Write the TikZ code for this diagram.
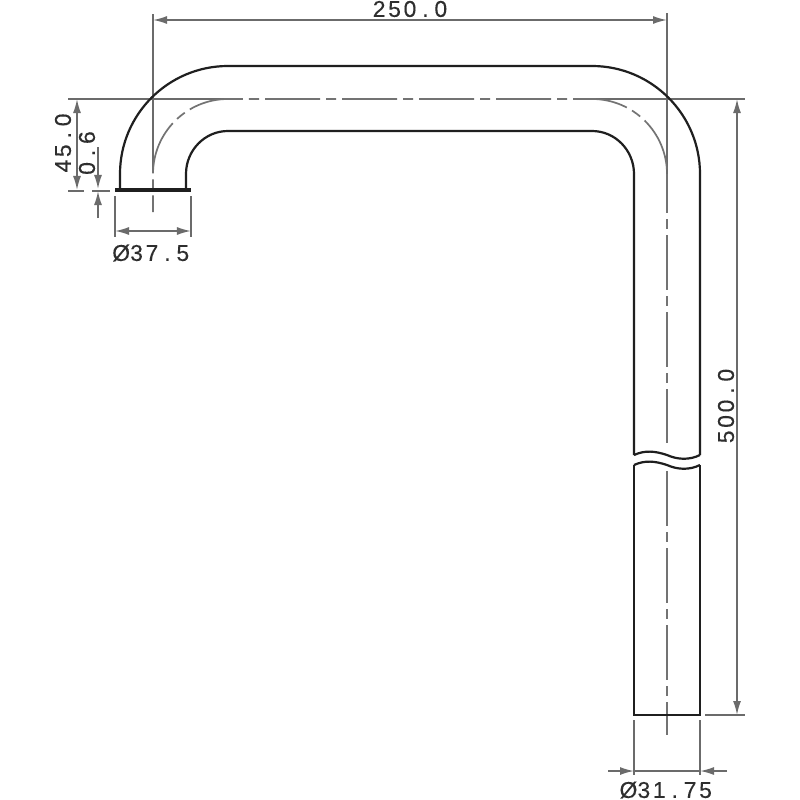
\documentclass[tikz,border=0pt]{standalone}
\usepackage{fontspec}
\setmainfont[FakeBold=0.25]{Liberation Sans}
\usetikzlibrary{arrows.meta}
\definecolor{tube}{gray}{0.12}
\definecolor{dim}{gray}{0.42}
\definecolor{cen}{gray}{0.45}
\tikzset{
  tubeline/.style={draw=tube,line width=0.22mm},
  flange/.style={draw=tube,line width=0.38mm},
  extline/.style={draw=dim,line width=0.17mm},
  dimline/.style={draw=dim,line width=0.17mm,{Latex[length=1.4mm,width=0.8mm]}-{Latex[length=1.4mm,width=0.8mm]}},
  outarrow/.style={draw=dim,line width=0.17mm,-{Latex[length=1.4mm,width=0.8mm]}},
  centreline/.style={draw=cen,line width=0.17mm,dash pattern=on 5.5mm off 0.6mm on 1mm off 0.6mm},
  backcentre/.style={centreline,dash phase=5.5mm},
  label/.style={inner sep=0pt,text=black!82,font=\fontsize{6.5pt}{6.5pt}\selectfont},
}
\newcommand{\ch}[1]{\makebox[1.54mm]{#1}}
\begin{document}
\begin{tikzpicture}[x=0.01cm,y=-0.01cm]
\useasboundingbox (0,0) rectangle (800,800);
\fill[white] (0,0) rectangle (800,800);
% coordinates
\coordinate (ol) at (120,190); \coordinate (il) at (186,190);
\coordinate (or) at (700,715); \coordinate (ir) at (634,715);
\coordinate (t1) at (153,20); \coordinate (t2) at (667,20);
\coordinate (e1t) at (153,14); \coordinate (e2t) at (667,13); \coordinate (e2b) at (667,174);
\coordinate (hl) at (68,99); \coordinate (hr) at (745,99);
\coordinate (d1) at (737,99); \coordinate (d2) at (737,715);
\coordinate (b1) at (705,715); \coordinate (b2) at (745,715);
\coordinate (a1) at (77,99); \coordinate (a2) at (77,190);
\coordinate (f1) at (115,190); \coordinate (f2) at (191,190);
% extension lines
\draw[extline] (e1t) -- (153,170);
\draw[extline] (e2t) -- (e2b);
\draw[extline] (hl) -- (228,99);
\draw[extline] (592,99) -- (hr);
\draw[extline] (b1) -- (b2);
\draw[extline] (68,191) -- (84,191);
\draw[extline] (92,191) -- (110,191);
\draw[extline] (115,196) -- (115,237);
\draw[extline] (191,196) -- (191,237);
\draw[extline] (634,720) -- (634,775);
\draw[extline] (700,720) -- (700,775);
% centre lines
\draw[backcentre] (265,99) -- (228,99) arc[start angle=270,end angle=180,radius=75] -- (153,212);
\draw[centreline] (265,99) -- (592,99) arc[start angle=270,end angle=360,radius=75];
\draw[backcentre] (667,235) -- (e2b);
\draw[centreline] (667,235) -- (667,443);
\draw[centreline] (667,471) -- (667,735);
% tube
\draw[tubeline] (ol) -- (120,174) arc[start angle=180,end angle=270,radius=108] -- (592,66) arc[start angle=270,end angle=360,radius=108] -- (700,455);
\draw[tubeline] (il) -- (186,174) arc[start angle=180,end angle=270,x radius=42,y radius=43] -- (592,131) arc[start angle=270,end angle=360,x radius=42,y radius=43] -- (634,455);
\draw[tubeline] (634,455) .. controls (645,450) and (655,451) .. (667,455) .. controls (678,460) and (690,460) .. (700,455);
\draw[tubeline] (634,465) .. controls (645,460) and (655,461) .. (667,465) .. controls (678,470) and (690,470) .. (700,465);
\draw[tubeline] (634,465) -- (ir) -- (or) -- (700,465);
\draw[flange] (f1) -- (f2);
% dimensions
\draw[dimline] (t1) -- (t2);
\draw[dimline] (d1) -- (d2);
\draw[dimline] (a1) -- (a2);
\draw[dimline] (115,231) -- (191,231);
\draw[outarrow] (98,147) -- (98,189);
\draw[outarrow] (98,218) -- (98,191);
\draw[outarrow] (608,771) -- (634,771);
\draw[outarrow] (727,771) -- (700,771);
\draw[extline] (634,771) -- (700,771);
% labels
\node[label] (l250) at (410,9) {\ch2\ch5\ch0\ch.\ch0};
\node[label,rotate=90] (l500) at (726,406) {\ch5\ch0\ch0\ch.\ch0};
\node[label,rotate=90] (l45) at (63,143) {\ch4\ch5\ch.\ch0};
\node[label,rotate=90] (l06) at (87,153) {\ch0\ch.\ch6};
\node[label] (l375) at (152,253) {\ch Ø\ch3\ch7\ch.\ch5};
\node[label] (l3175) at (667,790) {\ch Ø\ch3\ch1\ch.\ch7\ch5};
\end{tikzpicture}
\end{document}
